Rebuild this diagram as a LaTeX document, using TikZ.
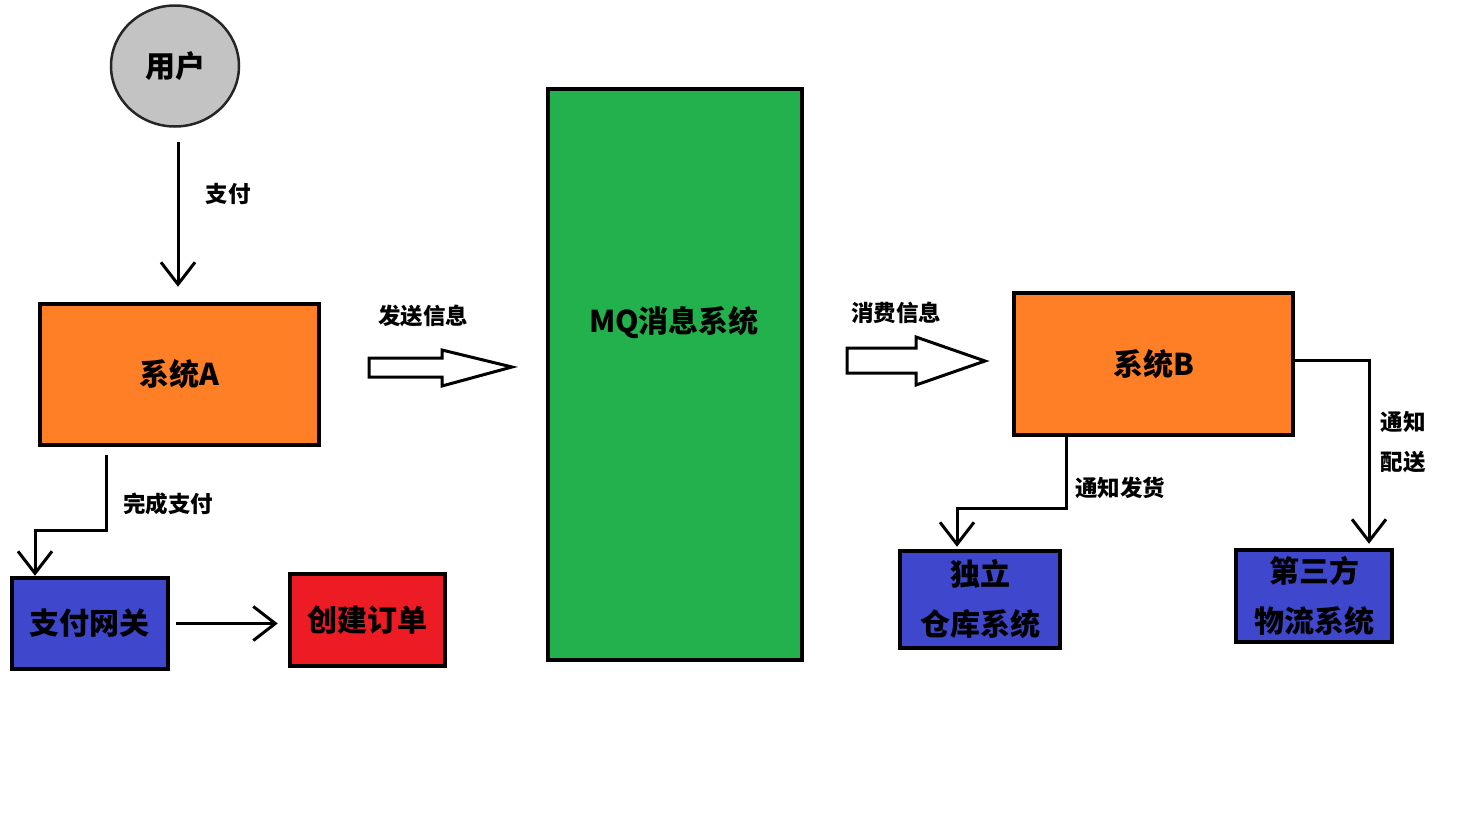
\documentclass[tikz,border=0pt]{standalone}
\usepackage{fontspec}
\setmainfont{Noto Sans CJK SC}
\usetikzlibrary{positioning, arrows.meta, shapes.geometric}
\definecolor{sys-orange}{RGB}{255,127,39}
\definecolor{sys-blue}{RGB}{63,72,204}
\definecolor{sys-red}{RGB}{237,28,36}
\definecolor{mq-green}{RGB}{34,177,76}
\definecolor{user-gray}{RGB}{195,195,195}

\begin{document}
\begin{tikzpicture}
    [x=1pt, y=-1pt,
    box/.style = {rectangle, draw, line width=4.5pt, align=center, inner sep=0pt,
            font=\bfseries\fontsize{30}{36}\selectfont},
    lbl/.style = {font=\bfseries\fontsize{22.5}{27}\selectfont, align=center},
    arr/.style = {draw, line width=3pt, -{Straight Barb[length=22pt, width=34pt]}},
    fat/.style = {draw, line width=3pt, fill=white, line join=miter},
    ]
    \useasboundingbox (0,0) rectangle (1484,833);
    
    
	\node[ellipse, draw=black!85, line width=2.5pt, fill=user-gray, minimum width=128, minimum height=121,
	      inner sep=0pt, font=\bfseries\fontsize{30}{36}\selectfont] (user) at (175,66) {用户};
	
	\node[box, fill=sys-orange, minimum width=279, minimum height=141] (sysA) at (179.5,374.5) {系统A};
	
	\node[box, fill=sys-blue, minimum width=156, minimum height=91] (gateway) at (90,623.5) {支付网关};
	\node[box, fill=sys-red, minimum width=155, minimum height=92] (order) at (367.5,620) {创建订单};
	
	
	\node[box, fill=mq-green, minimum width=254, minimum height=571] (mq) at (675,374.5) {};
	\node[box, draw=none] (mq-text) at (674,323) {MQ消息系统};
	
	
	\node[box, fill=sys-orange, minimum width=279, minimum height=142] (sysB) at (1153.5,364) {系统B};
	
	\node[box, fill=sys-blue, minimum width=160, minimum height=97] (depot) at (980,599.5) {独立\\[14pt]仓库系统};
	\node[box, fill=sys-blue, minimum width=156, minimum height=92] (logistics) at (1314,596) {第三方\\[14pt]物流系统};
	
	
	\draw[arr, shorten <=14, shorten >=15] ([xshift=3]user.south) -- ([xshift=3]user.south |- sysA.north);
	\node[lbl] (pay-lbl) at (228,194) {支付};
	
	\draw[arr] ([xshift=-73.5, yshift=-8]sysA.south) -- ++(0,75) -| ([xshift=-55]gateway.north);
	\node[lbl] (done-lbl) at (168,504) {完成支付};
	
	\draw[arr, shorten <=6, shorten >=10] (gateway.east) -- (gateway.east -| order.west);
	
	
	\draw[fat] (369,358) -- (442,358) -- (442,350) -- (512,367) -- (442,386) -- (442,377) -- (369,377) -- cycle;
	\node[lbl] (send-lbl) at (423,316) {发送信息};
	
	\draw[fat] (847,348) -- (916,348) -- (916,337) -- (985,361) -- (916,385) -- (916,373) -- (847,373) -- cycle;
	\node[lbl] (consume-lbl) at (896,313) {消费信息};
	
	
	\draw[arr, shorten >=2] ([xshift=-87.5]sysB.south) -- ++(0,71) -| ([xshift=-23]depot.north);
	\node[lbl] (ship-lbl) at (1120,488) {通知发货};
	
	\draw[arr, shorten >=4] ([yshift=4]sysB.east) -| ([xshift=55]logistics.north);
	\node[lbl] (deliver-lbl) at (1403,442) {通知\\[13pt]配送};
\end{tikzpicture}
\end{document}
